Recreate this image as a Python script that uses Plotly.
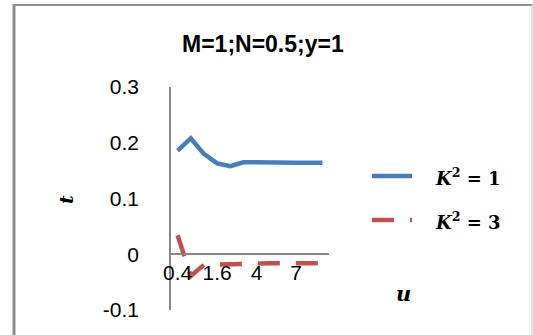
import plotly.graph_objects as go

u_cats = ["0.4", "0.8", "1.2", "1.6", "2", "3", "4", "5", "6", "7", "8", "9"]
t_k1 = [0.186, 0.208, 0.180, 0.163, 0.158, 0.165, 0.165, 0.164, 0.164, 0.164, 0.164, 0.164]
t_k3 = [0.034, -0.039, -0.019, -0.018, -0.017, -0.016, -0.016, -0.016, -0.016, -0.016, -0.016, -0.016]
x_tick_labels = ["0.4", "1.6", "4", "7"]
y_ticks = [-0.1, 0, 0.1, 0.2, 0.3]
series_names = ["<b><i>K</i><sup>2</sup> = 1</b>", "<b><i>K</i><sup>2</sup> = 3</b>"]
series_colors = ["#4A7EBB", "#C0504D"]
series_dash = ["solid", "22px,16px"]

W, H = 533, 335
L, R, T, B = 171, 204, 87, 25
PW, PH = W - L - R, H - T - B

def px(x):
    return (x - L) / PW

def py(y):
    return 1 - (y - T) / PH

fig = go.Figure()
for vals, name, col, dash in zip([t_k1, t_k3], series_names, series_colors, series_dash):
    fig.add_trace(go.Scatter(x=u_cats, y=vals, mode="lines", name=name,
                             line=dict(color=col, width=4.5, dash=dash)))

annotations = [
    dict(text="<b>M=1;N=0.5;y=1</b>", x=px(263), y=py(44), xref="paper", yref="paper",
         xanchor="center", yanchor="middle", showarrow=False,
         font=dict(family="Liberation Sans", size=23)),
    dict(text="<b><i>t</i></b>", x=px(66), y=py(200), xref="paper", yref="paper",
         xanchor="center", yanchor="middle", showarrow=False, textangle=-90,
         font=dict(family="DejaVu Serif", size=19)),
    dict(text="<b><i>u</i></b>", x=px(403), y=py(293), xref="paper", yref="paper",
         xanchor="center", yanchor="middle", showarrow=False,
         font=dict(family="DejaVu Serif", size=21)),
]
shapes = [
    dict(type="line", xref="paper", yref="paper", x0=px(14), x1=px(14), y0=py(4), y1=py(340),
         line=dict(color="#8C8C8C", width=3)),
    dict(type="line", xref="paper", yref="paper", x0=px(13), x1=px(532), y0=py(5), y1=py(5),
         line=dict(color="#8C8C8C", width=2)),
    dict(type="line", xref="paper", yref="paper", x0=px(532), x1=px(532), y0=py(4), y1=py(340),
         line=dict(color="#C8C8C8", width=1)),
]
# legend (drawn manually to match the Excel layout)
for i, (name, col, dash) in enumerate(zip(series_names, series_colors, series_dash)):
    ly = 176 + i * 44
    shapes.append(dict(type="line", xref="paper", yref="paper", x0=px(372), x1=px(412),
                       y0=py(ly), y1=py(ly), line=dict(color=col, width=4.5, dash=dash)))
    annotations.append(dict(text=name, x=px(433), y=py(ly + 1), xref="paper", yref="paper",
                            xanchor="left", yanchor="middle", showarrow=False,
                            font=dict(family="DejaVu Serif", size=18)))

fig.update_layout(
    width=W, height=H,
    margin=dict(l=L, r=R, t=T, b=B),
    paper_bgcolor="white", plot_bgcolor="white",
    font=dict(family="Liberation Sans", size=21, color="black"),
    showlegend=False,
    xaxis=dict(type="category", range=[-0.5, len(u_cats) - 0.5],
               tickmode="array", tickvals=x_tick_labels, ticktext=x_tick_labels,
               anchor="free", position=0.25, showline=True, linecolor="#868686", linewidth=1.5,
               showgrid=False, zeroline=False, ticks="", ticklabelstandoff=0),
    yaxis=dict(range=[-0.1, 0.3], tickvals=y_ticks, ticktext=["-0.1", "0", "0.1", "0.2", "0.3"],
               showline=True, linecolor="#868686", linewidth=1.5, showgrid=False, zeroline=False,
               ticks="", ticklabelstandoff=26),
    annotations=annotations,
    shapes=shapes,
)

fig.write_html("out.html", config={"displayModeBar": False},
               post_script="document.body.style.margin='0';")
